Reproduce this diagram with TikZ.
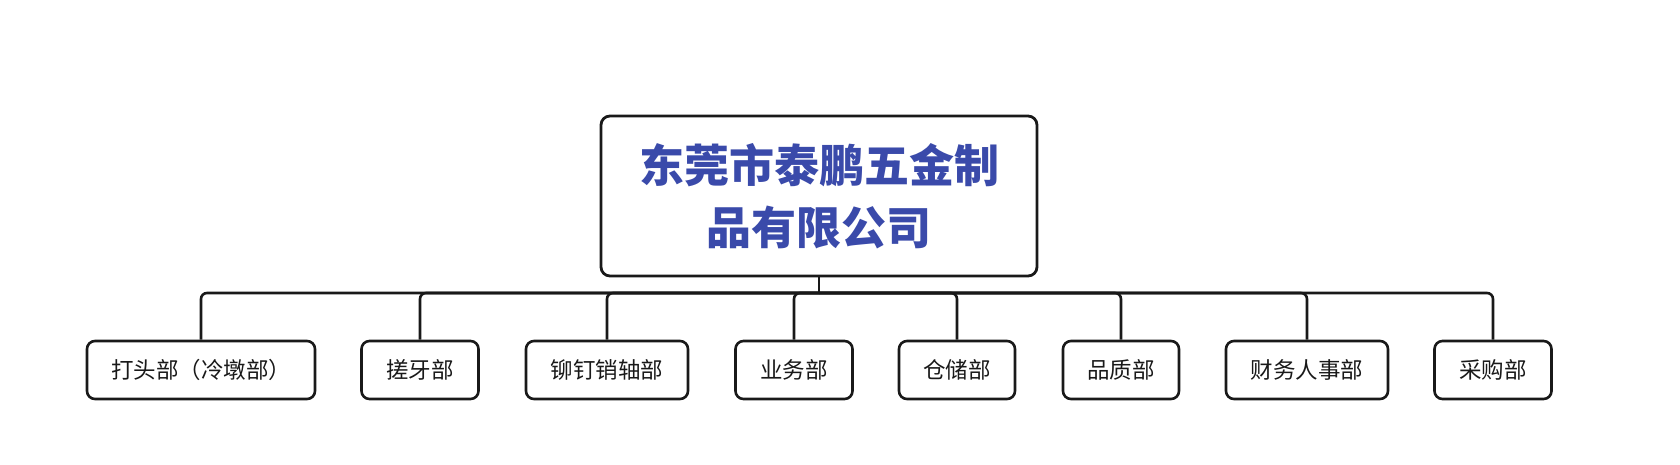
\documentclass[tikz,border=0pt]{standalone}
\usepackage{fontspec}
\newfontfamily\cjk{Noto Sans CJK SC}
\definecolor{titleblue}{RGB}{58,74,170}
\definecolor{ink}{RGB}{25,25,25}
\begin{document}
\begin{tikzpicture}[x=1pt,y=-1pt,
  rootbox/.style={draw=ink, line width=2.8pt, rounded corners=9pt, minimum width=436pt, minimum height=160pt, align=center, inner sep=0pt, text=titleblue, font=\cjk\bfseries\fontsize{45}{62}\selectfont},
  deptbox/.style={draw=ink, line width=2.6pt, rounded corners=8pt, minimum height=58pt, inner sep=0pt, font=\cjk\fontsize{22.5}{26}\selectfont, text=ink},
  link/.style={draw=ink, line width=2.6pt, rounded corners=6pt}]
\useasboundingbox (0,0) rectangle (1680,464);
\node[rootbox] (root) at (819,196) {东莞市泰鹏五金制\\品有限公司};
\coordinate (bus) at (0,293);
\node[deptbox, minimum width=228pt] (d1) at (201,370) {打头部（冷墩部）};
\node[deptbox, minimum width=117pt] (d2) at (420,370) {搓牙部};
\node[deptbox, minimum width=162pt] (d3) at (607,370) {铆钉销轴部};
\node[deptbox, minimum width=117pt] (d4) at (794,370) {业务部};
\node[deptbox, minimum width=116pt] (d5) at (957,370) {仓储部};
\node[deptbox, minimum width=116pt] (d6) at (1121,370) {品质部};
\node[deptbox, minimum width=162pt] (d7) at (1307,370) {财务人事部};
\node[deptbox, minimum width=117pt] (d8) at (1493,370) {采购部};
\draw[link] (root.south) -- (root.south |- bus);
\foreach \d in {d1,d2,d3,d4,d5,d6,d7,d8}{
  \draw[link] (root.south |- bus) -| (\d.north);
}
\end{tikzpicture}
\end{document}
